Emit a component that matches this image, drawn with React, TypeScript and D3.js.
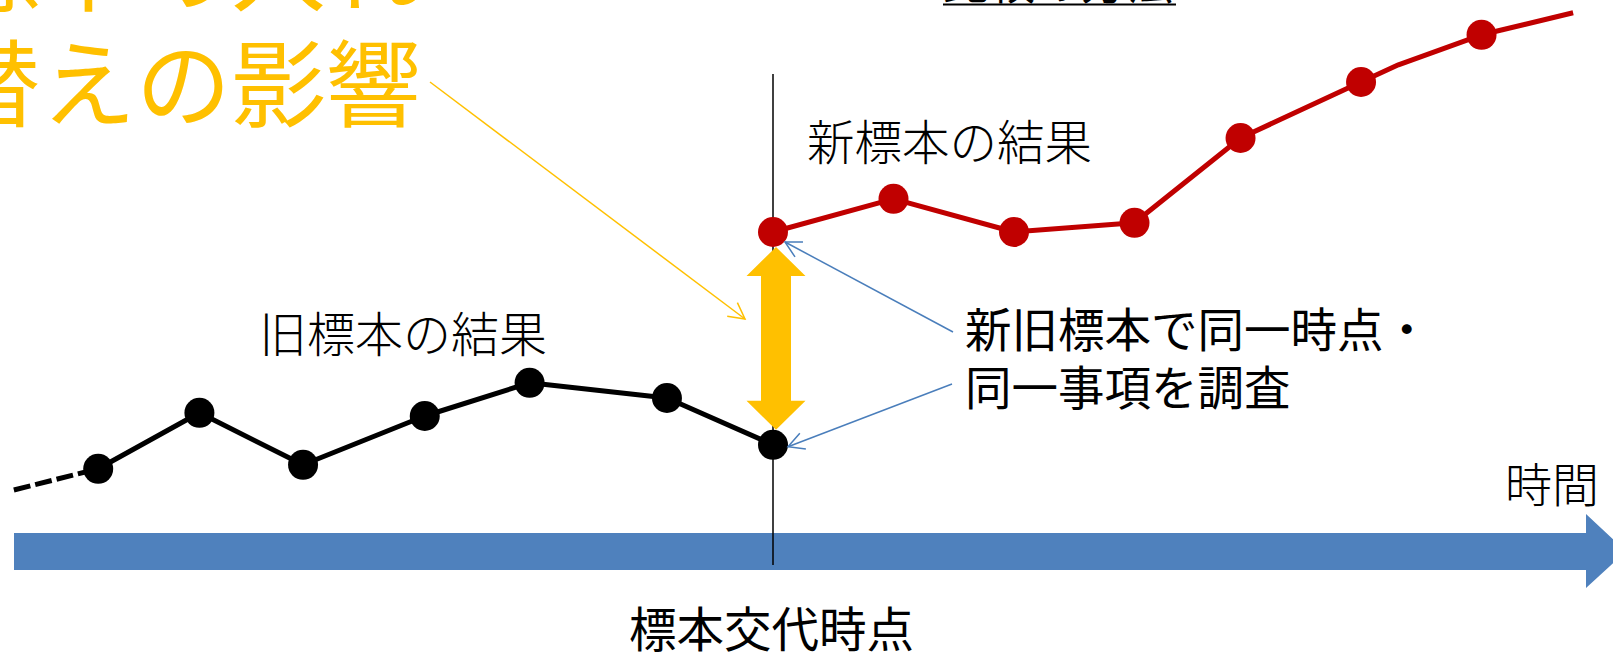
import React from "react";
import * as d3 from "d3";

// ---- data (time units, level units) ----
const oldTimes = [-5.6, -4.76, -3.9, -2.89, -2.02, -0.88, 0];
const oldValues = [0.78, 2.18, 0.88, 2.1, 2.93, 2.55, 1.38];
const oldLeadTime = [-6.3];
const oldLeadValue = [0.25];

const newTimes = [0, 1.0, 2.0, 3.0, 3.88, 4.88, 5.88];
const newValues = [6.7, 7.53, 6.7, 6.93, 9.05, 10.45, 11.63];
// full path of the new-sample line (markers only on newTimes)
const newPathTimes = [0, 1.0, 2.0, 3.0, 3.88, 4.88, 5.19, 5.88, 6.64];
const newPathValues = [6.7, 7.53, 6.7, 6.93, 9.05, 10.45, 10.88, 11.63, 12.18];

const titleLines = ["標本の入れ", "替えの影響"];
const topLabel = "比較の方法";
const newLabel = "新標本の結果";
const oldLabel = "旧標本の結果";
const noteLines = ["新旧標本で同一時点・", "同一事項を調査"];
const axisLabel = "時間";
const switchLabel = "標本交代時点";

const W = 1613;
const H = 653;
const FONT = "'Noto Sans CJK JP', 'Noto Sans CJK SC', sans-serif";
const YELLOW = "#FFC000";
const RED = "#C00000";
const BLUE = "#4F81BD";
const THINBLUE = "#4A7EBB";

function chevron(x1: number, y1: number, x2: number, y2: number, L = 18, phiDeg = 28) {
  const th = Math.atan2(y2 - y1, x2 - x1);
  const phi = (phiDeg * Math.PI) / 180;
  const a = [x2 - L * Math.cos(th - phi), y2 - L * Math.sin(th - phi)];
  const b = [x2 - L * Math.cos(th + phi), y2 - L * Math.sin(th + phi)];
  return `M${a[0]},${a[1]}L${x2},${y2}L${b[0]},${b[1]}`;
}

export default function App() {
  const x = d3.scaleLinear().domain([-6, 6]).range([50, 1496]);
  const y = d3.scaleLinear().domain([0, 12.5]).range([500, 0]);
  const R = 15;

  const line = d3
    .line<[number, number]>()
    .x((d) => x(d[0]))
    .y((d) => y(d[1]));

  const oldPts: [number, number][] = oldTimes.map((t, i) => [t, oldValues[i]]);
  const leadPts: [number, number][] = [
    [oldLeadTime[0], oldLeadValue[0]],
    [oldTimes[0], oldValues[0]],
  ];
  const newPathPts: [number, number][] = newPathTimes.map((t, i) => [t, newPathValues[i]]);
  const newPts: [number, number][] = newTimes.map((t, i) => [t, newValues[i]]);

  const x0 = x(0);
  const newTop = y(newValues[0]);
  const oldBot = y(oldValues[oldValues.length - 1]);

  // double arrow
  const ax = x0 + 3;
  const shaftHalf = 15;
  const headHalf = 29.5;
  const headLen = 29;
  const tTop = newTop + R;
  const tBot = oldBot - R;
  const dbl = [
    [ax, tTop],
    [ax + headHalf, tTop + headLen],
    [ax + shaftHalf, tTop + headLen],
    [ax + shaftHalf, tBot - headLen],
    [ax + headHalf, tBot - headLen],
    [ax, tBot],
    [ax - headHalf, tBot - headLen],
    [ax - shaftHalf, tBot - headLen],
    [ax - shaftHalf, tTop + headLen],
    [ax - headHalf, tTop + headLen],
  ];

  // time arrow
  const bodyTop = 533;
  const bodyBot = 570;
  const headStart = 1586;
  const tip = 1626;
  const mid = (bodyTop + bodyBot) / 2;
  const timeArrow = [
    [14, bodyTop],
    [headStart, bodyTop],
    [headStart, 514],
    [tip, mid],
    [headStart, 588],
    [headStart, bodyBot],
    [14, bodyBot],
  ];

  // pointer lines
  const b1s = [953, 332];
  const b1t = [x0 + 12, newTop + 10];
  const b2s = [952, 384];
  const b2t = [x0 + 15, oldBot + 2];
  const ys = [430, 82];
  const yt = [745, 319];

  return (
    <svg
      width={W}
      height={H}
      viewBox={`0 0 ${W} ${H}`}
      style={{ position: "absolute", left: 0, top: 0, background: "#fff" }}
    >
      <rect x={0} y={0} width={W} height={H} fill="#fff" />

      {/* time axis arrow */}
      <path d={"M" + timeArrow.map((p) => p.join(",")).join("L") + "Z"} fill={BLUE} />

      {/* vertical switch line */}
      <line x1={x0} x2={x0} y1={74} y2={565} stroke="#000" strokeWidth={1.5} />

      {/* old series */}
      <path d={line(leadPts) || ""} fill="none" stroke="#000" strokeWidth={5} strokeDasharray="17 5" />
      <path d={line(oldPts) || ""} fill="none" stroke="#000" strokeWidth={5} strokeLinejoin="round" />
      {oldPts.map((p, i) => (
        <circle key={"o" + i} cx={x(p[0])} cy={y(p[1])} r={R} fill="#000" />
      ))}

      {/* new series */}
      <path d={line(newPathPts) || ""} fill="none" stroke={RED} strokeWidth={5} strokeLinejoin="round" />
      {newPts.map((p, i) => (
        <circle key={"n" + i} cx={x(p[0])} cy={y(p[1])} r={R} fill={RED} />
      ))}

      {/* double arrow */}
      <path d={"M" + dbl.map((p) => p.join(",")).join("L") + "Z"} fill={YELLOW} />

      {/* blue pointers */}
      <g stroke={THINBLUE} strokeWidth={1.5} fill="none">
        <line x1={b1s[0]} y1={b1s[1]} x2={b1t[0]} y2={b1t[1]} />
        <path d={chevron(b1s[0], b1s[1], b1t[0], b1t[1])} />
        <line x1={b2s[0]} y1={b2s[1]} x2={b2t[0]} y2={b2t[1]} />
        <path d={chevron(b2s[0], b2s[1], b2t[0], b2t[1])} />
      </g>

      {/* yellow pointer */}
      <g stroke={YELLOW} strokeWidth={1.5} fill="none">
        <line x1={ys[0]} y1={ys[1]} x2={yt[0]} y2={yt[1]} />
        <path d={chevron(ys[0], ys[1], yt[0], yt[1])} />
      </g>

      {/* texts */}
      <g fontFamily={FONT}>
        {titleLines.map((t, i) => (
          <text key={"t" + i} x={-54} y={4 + i * 116} fontSize={95} fill={YELLOW}>
            {t}
          </text>
        ))}
        <text x={943} y={-1.5} fontSize={46} fill="#000">
          {topLabel}
        </text>
        <line x1={943} x2={1176} y1={4.5} y2={4.5} stroke="#000" strokeWidth={2} />

        <text x={807} y={160} fontSize={47.5} fontWeight={300} fill="#000">
          {newLabel}
        </text>
        <text x={259} y={352} fontSize={48} fontWeight={300} fill="#000">
          {oldLabel}
        </text>
        {noteLines.map((t, i) => (
          <text key={"n" + i} x={965} y={347 + i * 58} fontSize={46.5} fill="#000">
            {t}
          </text>
        ))}
        <text x={1505} y={502} fontSize={47} fontWeight={300} fill="#000">
          {axisLabel}
        </text>
        <text x={629} y={647} fontSize={47.5} fill="#000">
          {switchLabel}
        </text>
      </g>
    </svg>
  );
}
